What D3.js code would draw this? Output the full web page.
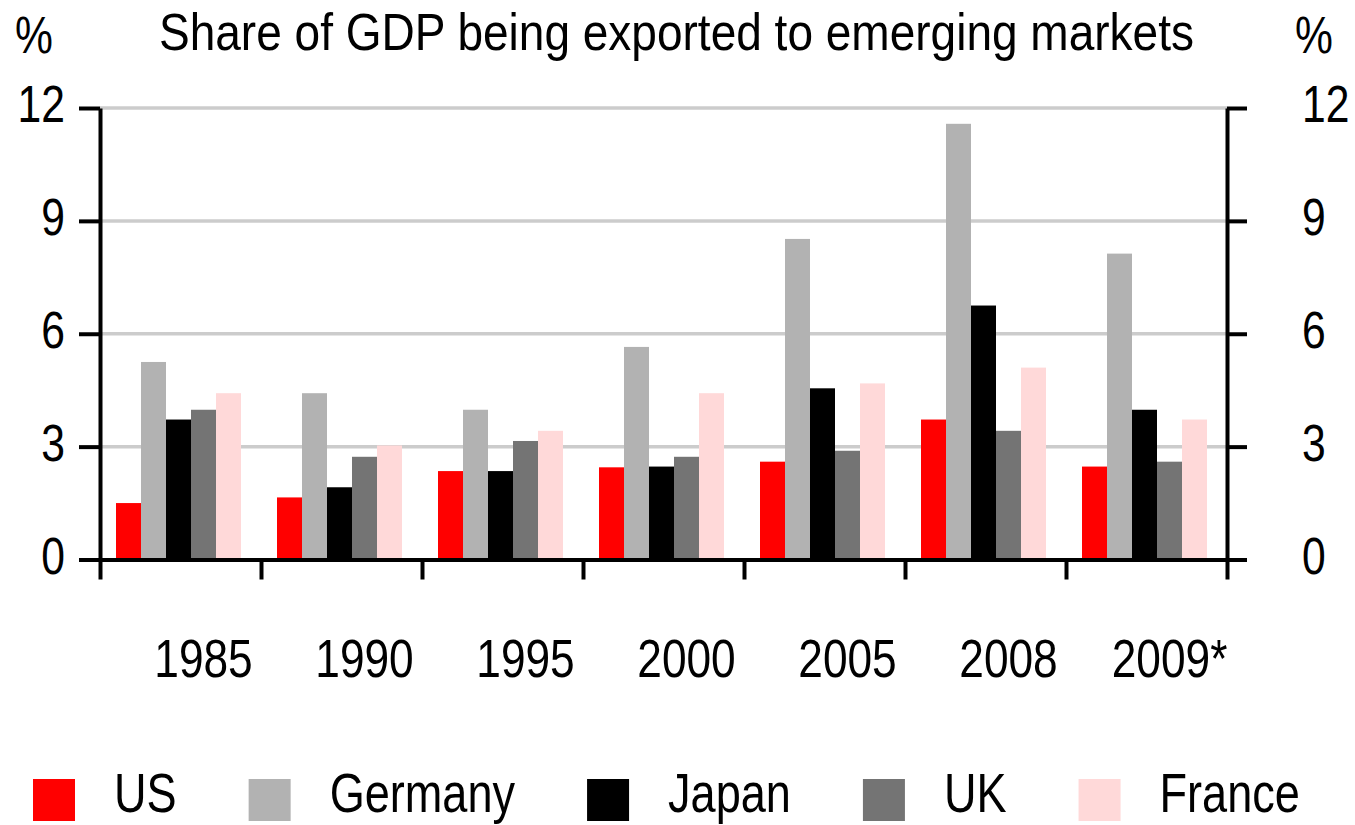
<!DOCTYPE html>
<html>
<head>
<meta charset="utf-8">
<script src="https://cdn.jsdelivr.net/npm/d3@7"></script>
<style>
  body { margin: 0; background: #fff; }
  svg text { font-family: "Liberation Sans", Arial, sans-serif; fill: #000; }
</style>
</head>
<body>
<svg id="chart" width="1355" height="825"></svg>
<script>
const years = ["1985", "1990", "1995", "2000", "2005", "2008", "2009*"];
const seriesNames = ["US", "Germany", "Japan", "UK", "France"];
const seriesColors = ["#ff0000", "#b2b2b2", "#000000", "#747474", "#ffd9d9"];

const us = [1.5, 1.65, 2.35, 2.45, 2.6, 3.72, 2.47];
const germany = [5.25, 4.42, 3.98, 5.65, 8.52, 11.58, 8.13];
const japan = [3.72, 1.92, 2.35, 2.47, 4.55, 6.75, 3.98];
const uk = [3.98, 2.73, 3.15, 2.73, 2.89, 3.42, 2.6];
const france = [4.42, 3.03, 3.42, 4.42, 4.68, 5.1, 3.72];

const yTicks = [0, 3, 6, 9, 12];
const title = "Share of GDP being exported to emerging markets";
const unitLabel = "%";

const seriesValues = [us, germany, japan, uk, france];
const margin = { top: 108, left: 100, right: 128, bottom: 265.5 };
const W = 1355, H = 825;
const width = W - margin.left - margin.right;
const height = H - margin.top - margin.bottom;
/*no narrow font is installed, so the regular one is squeezed horizontally*/
const narrow = 0.82;

const svg = d3.select("#chart");

const narrowText = (parent, x, y, str, size, anchor, squeeze) => {
  const t = parent.append("g")
    .attr("transform", "translate(" + x + "," + y + ") scale(" + (squeeze || narrow) + ",1)")
    .append("text")
    .attr("font-size", size)
    .attr("text-anchor", anchor || "start")
    .text(str);
  return t;
};

/*scales*/
const x0 = d3.scaleBand().domain(years).range([0, width]);
const x1 = d3.scaleBand().domain(seriesNames).range([16, 141]);
const xEdge = d3.scaleLinear().domain([0, years.length]).range([0, width]);
const y = d3.scaleLinear().domain([0, 12]).range([height, 0]);
const color = d3.scaleOrdinal().domain(seriesNames).range(seriesColors);

const g = svg.append("g")
  .attr("transform", "translate(" + margin.left + "," + margin.top + ")");

/*horizontal gridlines*/
g.append("g")
  .selectAll("line")
  .data(yTicks.filter(d => d > 0))
  .enter()
  .append("line")
  .attr("x1", 0)
  .attr("x2", width)
  .attr("y1", d => y(d))
  .attr("y2", d => y(d))
  .attr("stroke", "#cccccc")
  .attr("stroke-width", 3.5);

/*bars*/
const rows = years.map((yr, i) => ({
  year: yr,
  values: seriesNames.map((s, j) => ({ key: s, value: seriesValues[j][i] }))
}));

g.append("g")
  .selectAll("g")
  .data(rows)
  .enter()
  .append("g")
  .attr("transform", d => "translate(" + x0(d.year) + ",0)")
  .selectAll("rect")
  .data(d => d.values)
  .enter()
  .append("rect")
  .attr("x", d => x1(d.key))
  .attr("width", x1.bandwidth())
  .attr("y", d => y(d.value))
  .attr("height", d => y(0) - y(d.value))
  .attr("fill", d => color(d.key));

/*axes (labels drawn separately so they can be squeezed)*/
const styleAxis = sel => {
  sel.selectAll("path, line").attr("stroke", "#000").attr("stroke-width", 4);
};

g.append("g")
  .call(d3.axisLeft(y).tickValues(yTicks).tickSize(21).tickSizeOuter(0).tickFormat(""))
  .call(styleAxis);

g.append("g")
  .attr("transform", "translate(" + width + ",0)")
  .call(d3.axisRight(y).tickValues(yTicks).tickSize(20).tickSizeOuter(0).tickFormat(""))
  .call(styleAxis);

g.append("g")
  .attr("transform", "translate(0," + height + ")")
  .call(d3.axisBottom(xEdge).ticks(years.length).tickFormat("").tickSize(20).tickSizeOuter(0))
  .call(styleAxis);

/*y tick labels on both sides*/
yTicks.forEach(v => {
  narrowText(g, -35, y(v) + 14, v, 52, "end");
  narrowText(g, width + 75, y(v) + 14, v, 52, "start");
});

/*category labels*/
years.forEach(yr => {
  narrowText(g, x0(yr) + x0.bandwidth() / 2 + 23, height + 117.5, yr, 54, "middle");
});

/*title and unit labels*/
narrowText(svg, 159, 50, title, 52, "start", 0.885);
narrowText(svg, 15, 53, unitLabel, 52, "start");
narrowText(svg, 1295, 53, unitLabel, 52, "start");

/*legend laid out from left to right*/
const legend = svg.append("g").attr("transform", "translate(33,779)");
let cursor = 0;
seriesNames.forEach(name => {
  const item = legend.append("g").attr("transform", "translate(" + cursor + ",0)");
  item.append("rect")
    .attr("width", 42)
    .attr("height", 42)
    .attr("fill", color(name));
  const label = narrowText(item, 81, 33, name, 55, "start");
  cursor += 81 + label.node().getComputedTextLength() * narrow + 72;
});
</script>
</body>
</html>
